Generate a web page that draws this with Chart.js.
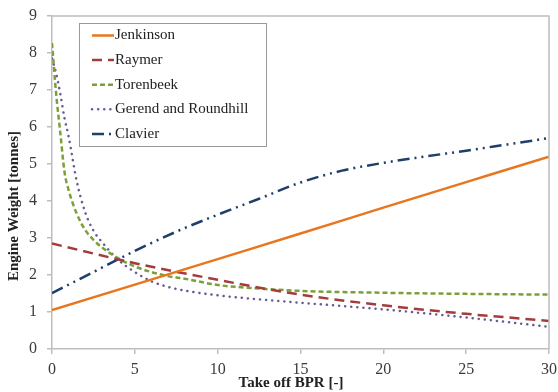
<!DOCTYPE html>
<html>
<head>
<meta charset="utf-8">
<script src="https://cdn.jsdelivr.net/npm/chart.js@4/dist/chart.umd.min.js"></script>
<style>
  html, body { margin: 0; padding: 0; background: #fff; }
  #wrap { width: 558px; height: 392px; }
</style>
</head>
<body>
<div id="wrap"><canvas id="c" width="558" height="392"></canvas></div>
<script>
// ---- data ----
const seriesNames = ["Jenkinson", "Raymer", "Torenbeek", "Gerend and Roundhill", "Clavier"];

const bprJenkinson = [0, 5, 10, 15, 20, 25, 30];
const jenkinson    = [1.05, 1.74, 2.43, 3.12, 3.82, 4.51, 5.2];

const bprRaymer = [0, 5, 10, 15, 20, 25, 30];
const raymer    = [2.85, 2.32, 1.87, 1.47, 1.18, 0.95, 0.76];

const bprTorenbeek = [0, 0.25, 0.5, 0.75, 1, 1.5, 2, 2.5, 3, 4, 5, 6, 7, 8, 10, 12, 15, 20, 25, 30];
const torenbeek    = [8.27, 6.9, 5.85, 4.8, 4.3, 3.65, 3.22, 2.95, 2.75, 2.45, 2.23, 2.08, 1.97, 1.9, 1.73, 1.65, 1.57, 1.52, 1.49, 1.47];

const bprGerend = [0, 0.25, 0.5, 0.75, 1, 1.5, 2, 2.5, 3, 4, 5, 6, 7, 8, 10, 12, 15, 20, 25, 30];
const gerend    = [7.85, 7.45, 6.9, 6.25, 5.75, 4.52, 3.7, 3.2, 2.9, 2.41, 2.08, 1.83, 1.68, 1.58, 1.45, 1.36, 1.25, 1.07, 0.85, 0.6];

const bprClavier = [0, 2.5, 5, 7.5, 10, 12.5, 15, 17.5, 20, 22.5, 25, 27.5, 30];
const clavier    = [1.51, 2.08, 2.65, 3.17, 3.63, 4.06, 4.5, 4.82, 5.03, 5.2, 5.36, 5.53, 5.7];

const xTicks = [0, 5, 10, 15, 20, 25, 30];
const yTicks = [0, 1, 2, 3, 4, 5, 6, 7, 8, 9];
const xTitle = "Take off BPR [-]";
const yTitle = "Engine Weight [tonnes]";

// ---- build ----
function pts(xs, ys) { return xs.map((x, i) => ({ x: x, y: ys[i] })); }

const styles = [
  { color: "#E8761E", dash: [], cap: "butt" },
  { color: "#A33D3B", dash: [10, 6], cap: "butt" },
  { color: "#7D9F3A", dash: [5, 3], cap: "butt" },
  { color: "#6A5A92", dash: [0.1, 6], cap: "round" },
  { color: "#1F3F6B", dash: [12, 5, 2, 5, 2, 5], cap: "butt" }
];
const allData = [
  pts(bprJenkinson, jenkinson),
  pts(bprRaymer, raymer),
  pts(bprTorenbeek, torenbeek),
  pts(bprGerend, gerend),
  pts(bprClavier, clavier)
];

const datasets = seriesNames.map((n, i) => ({
  label: n,
  data: allData[i],
  borderColor: styles[i].color,
  backgroundColor: styles[i].color,
  borderWidth: 2.5,
  borderDash: styles[i].dash,
  borderCapStyle: styles[i].cap,
  pointRadius: 0,
  showLine: true,
  fill: false,
  cubicInterpolationMode: "monotone"
}));

const serif = "'Liberation Serif', 'Times New Roman', serif";

const customPlugin = {
  id: "custom",
  afterDraw(chart) {
    const ctx = chart.ctx;
    const a = chart.chartArea;
    ctx.save();
    // top + right frame
    ctx.strokeStyle = "#BDBDBD";
    ctx.lineWidth = 1.5;
    ctx.beginPath();
    ctx.moveTo(a.left, a.top);
    ctx.lineTo(a.right, a.top);
    ctx.lineTo(a.right, a.bottom);
    ctx.stroke();

    // legend box
    const lx = 79, ly = 23, lw = 187, lh = 123;
    ctx.fillStyle = "#fff";
    ctx.fillRect(lx, ly, lw, lh);
    ctx.strokeStyle = "#9A9A9A";
    ctx.lineWidth = 1;
    ctx.strokeRect(lx + 0.5, ly + 0.5, lw, lh);
    ctx.font = "15px " + serif;
    ctx.textBaseline = "middle";
    ctx.textAlign = "left";
    chart.data.datasets.forEach((ds, i) => {
      const y = 35.5 + i * 24.6;
      ctx.strokeStyle = ds.borderColor;
      ctx.lineWidth = 2.5;
      ctx.lineCap = ds.borderCapStyle;
      ctx.setLineDash(ds.borderDash);
      ctx.beginPath();
      ctx.moveTo(92, y);
      ctx.lineTo(114, y);
      ctx.stroke();
      ctx.setLineDash([]);
      ctx.fillStyle = "#222";
      ctx.fillText(ds.label, 115, y);
    });

    // axis titles
    ctx.fillStyle = "#222";
    ctx.font = "bold 15px " + serif;
    ctx.textAlign = "center";
    ctx.textBaseline = "middle";
    ctx.fillText(xTitle, 291, 383);
    ctx.translate(14, 206);
    ctx.rotate(-Math.PI / 2);
    ctx.fillText(yTitle, 0, 0);
    ctx.restore();
  }
};

new Chart(document.getElementById("c"), {
  type: "scatter",
  data: { datasets: datasets },
  options: {
    responsive: false,
    animation: false,
    devicePixelRatio: 1,
    layout: { padding: { left: 0, right: 9, top: 16, bottom: 0 } },
    plugins: { legend: { display: false }, tooltip: { enabled: false } },
    scales: {
      x: {
        type: "linear",
        min: 0, max: 30,
        afterBuildTicks(s) { s.ticks = xTicks.map(v => ({ value: v })); },
        afterFit(s) { s.height = 43; s.paddingLeft = 0; s.paddingRight = 0; },
        grid: { display: true, drawOnChartArea: false, drawTicks: true, tickLength: 5, color: "#BDBDBD", lineWidth: 1.5 },
        border: { display: true, color: "#BDBDBD", width: 1.5 },
        ticks: { color: "#3a3a3a", font: { family: serif, size: 16 }, padding: 6, maxRotation: 0 }
      },
      y: {
        type: "linear",
        min: 0, max: 9,
        afterBuildTicks(s) { s.ticks = yTicks.map(v => ({ value: v })); },
        afterFit(s) { s.width = 52; s.paddingTop = 0; s.paddingBottom = 0; },
        grid: { display: true, drawOnChartArea: false, drawTicks: true, tickLength: 5, color: "#BDBDBD", lineWidth: 1.5 },
        border: { display: true, color: "#BDBDBD", width: 1.5 },
        ticks: { color: "#3a3a3a", font: { family: serif, size: 16 }, padding: 10 }
      }
    }
  },
  plugins: [customPlugin]
});
</script>
</body>
</html>
